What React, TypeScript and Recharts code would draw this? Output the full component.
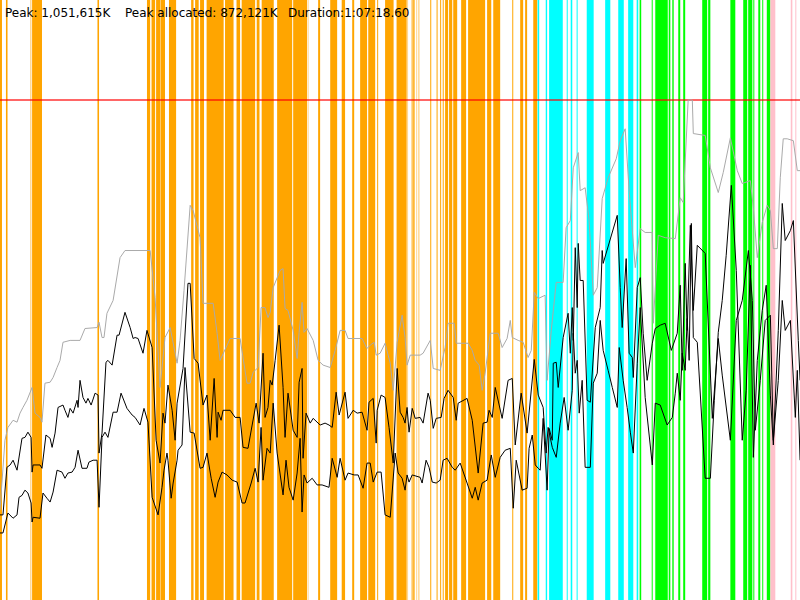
import React from "react";
import { ComposedChart, Line, XAxis, YAxis, ReferenceLine, ReferenceArea } from "recharts";

// Time in seconds, memory in MB
const DURATION_S = 4038.6;
const PEAK_MB = 1051.615;
const Y_MAX = 1261.9;

const summaryLabels = [
  { text: "Peak: 1,051,615K", left: 5 },
  { text: "Peak allocated: 872,121K", left: 125 },
  { text: "Duration:1:07:18.60", left: 288 },
];

// committed heap (gray)
const committedHeap: [number, number][] = [
  [0,189],[25,336],[40,363],[66,378],[86,374],[101,393],[116,405],[136,420],[162,447],[177,393],[202,384],[212,374],[227,456],[253,458],[268,468],[288,489],[303,504],[318,542],[354,546],[404,546],[429,571],[490,573],[500,584],[515,552],[525,552],[540,603],[571,630],[606,720],[631,735],[758,735],[783,636],[808,447],[833,552],[859,573],[894,498],[909,546],[929,651],[960,830],[975,819],[1010,762],[1025,624],[1076,624],[1096,561],[1111,504],[1162,550],[1212,550],[1247,456],[1263,456],[1278,479],[1303,489],[1318,615],[1338,615],[1353,594],[1364,605],[1379,657],[1414,693],[1429,697],[1439,613],[1454,609],[1480,567],[1500,508],[1510,563],[1525,626],[1535,563],[1550,571],[1581,546],[1606,504],[1631,494],[1667,489],[1692,525],[1717,567],[1742,567],[1757,550],[1828,550],[1853,529],[1869,536],[1889,542],[1899,515],[1919,519],[1944,540],[1970,498],[1985,441],[2005,542],[2030,599],[2045,552],[2055,494],[2071,515],[2121,515],[2136,519],[2172,546],[2187,487],[2222,483],[2247,531],[2262,582],[2293,582],[2303,540],[2363,540],[2384,525],[2399,504],[2419,494],[2434,441],[2449,477],[2475,561],[2515,561],[2535,531],[2560,550],[2576,588],[2586,552],[2616,546],[2641,542],[2666,510],[2682,525],[2697,647],[2717,634],[2752,641],[2762,462],[2783,567],[2808,668],[2843,668],[2858,783],[2879,798],[2894,909],[2919,941],[2929,861],[2954,867],[2974,798],[2995,641],[3015,657],[3040,844],[3070,888],[3111,928],[3131,966],[3156,991],[3176,861],[3207,699],[3232,781],[3257,773],[3293,773],[3298,582],[3323,767],[3358,762],[3409,760],[3434,846],[3449,836],[3474,1051.6],[3495,1051.6],[3500,981],[3560,977],[3586,909],[3626,857],[3651,899],[3687,972],[3722,903],[3747,876],[3788,882],[3803,825],[3823,720],[3848,794],[3873,830],[3889,819],[3904,739],[3924,739],[3939,888],[3954,970],[3974,970],[4005,966],[4025,903],[4039,903],
];

// allocated (upper black)
const allocatedHeap: [number, number][] = [
  [0,179],[15,179],[35,279],[51,284],[66,294],[86,273],[111,340],[126,342],[141,353],[157,342],[162,269],[167,284],[202,284],[212,277],[232,347],[253,340],[263,321],[278,351],[293,405],[318,410],[328,399],[343,384],[354,403],[369,393],[389,420],[394,405],[404,462],[419,426],[434,414],[444,424],[460,410],[480,435],[495,431],[500,309],[515,351],[535,500],[545,504],[566,494],[591,557],[601,557],[631,605],[657,573],[672,550],[682,552],[697,550],[722,519],[742,567],[768,531],[788,336],[808,288],[823,393],[833,372],[848,452],[869,399],[884,336],[894,414],[924,487],[949,666],[960,666],[980,508],[1000,498],[1025,410],[1045,431],[1061,336],[1081,466],[1096,342],[1101,395],[1116,378],[1126,399],[1162,399],[1187,384],[1212,384],[1227,321],[1252,319],[1273,368],[1293,414],[1308,372],[1328,519],[1338,384],[1353,405],[1364,462],[1374,452],[1389,504],[1409,578],[1429,447],[1439,342],[1454,435],[1480,357],[1500,342],[1510,458],[1525,487],[1530,298],[1545,393],[1566,372],[1581,382],[1616,368],[1641,372],[1661,368],[1677,363],[1697,437],[1712,389],[1742,437],[1757,382],[1783,399],[1803,393],[1828,395],[1853,357],[1863,416],[1884,424],[1899,330],[1904,399],[1924,431],[1944,426],[1964,363],[1985,288],[2005,487],[2020,395],[2035,384],[2045,372],[2055,405],[2065,353],[2081,403],[2096,382],[2121,384],[2136,372],[2161,435],[2172,420],[2187,361],[2202,382],[2227,384],[2242,424],[2262,441],[2288,426],[2303,378],[2313,414],[2358,424],[2384,378],[2414,267],[2439,372],[2459,374],[2469,399],[2485,384],[2500,447],[2535,382],[2565,462],[2586,466],[2601,326],[2631,435],[2661,351],[2697,506],[2717,431],[2742,405],[2757,309],[2767,363],[2788,321],[2808,300],[2828,372],[2848,426],[2868,357],[2889,441],[2894,561],[2904,477],[2914,504],[2924,393],[2939,462],[2954,279],[2980,279],[2995,456],[3015,477],[3030,588],[3045,525],[3070,483],[3091,447],[3116,405],[3126,531],[3146,462],[3166,405],[3182,353],[3197,309],[3217,498],[3232,615],[3257,426],[3293,284],[3308,414],[3333,410],[3368,368],[3394,384],[3409,435],[3419,477],[3434,420],[3444,519],[3459,483],[3469,592],[3479,504],[3490,792],[3500,552],[3520,542],[3560,256],[3586,256],[3606,420],[3626,563],[3646,630],[3666,725],[3692,872.1],[3717,693],[3747,336],[3767,441],[3788,704],[3803,300],[3823,504],[3848,609],[3868,662],[3889,431],[3904,326],[3929,567],[3949,834],[3964,756],[3990,777],[4005,798],[4030,546],[4039,462],
];

// live heap (lower black)
const liveHeap: [number, number][] = [
  [0,141],[15,141],[40,183],[66,172],[86,179],[96,216],[111,220],[126,231],[141,225],[157,204],[162,164],[167,174],[202,172],[217,225],[237,214],[253,206],[268,227],[288,273],[313,269],[328,256],[343,267],[364,269],[379,279],[394,315],[414,277],[439,277],[449,290],[470,294],[490,294],[500,195],[515,342],[530,353],[545,342],[571,395],[591,395],[611,435],[641,403],[667,389],[682,384],[707,368],[727,403],[747,374],[768,216],[798,179],[818,237],[828,273],[843,309],[848,294],[864,214],[874,246],[894,294],[899,315],[919,326],[934,489],[960,353],[980,351],[1010,277],[1025,279],[1045,309],[1066,256],[1086,216],[1101,248],[1121,269],[1146,263],[1172,252],[1197,248],[1222,204],[1237,204],[1268,246],[1288,277],[1303,248],[1318,363],[1328,252],[1348,319],[1364,309],[1379,414],[1399,309],[1429,221],[1444,294],[1459,237],[1480,210],[1500,267],[1515,340],[1525,185],[1535,263],[1550,246],[1576,256],[1601,242],[1626,242],[1661,237],[1677,298],[1702,258],[1717,298],[1742,252],[1757,267],[1788,263],[1808,263],[1833,235],[1853,288],[1869,288],[1884,248],[1904,269],[1924,269],[1944,179],[1970,174],[1995,309],[2010,267],[2030,256],[2045,231],[2055,263],[2065,248],[2081,263],[2121,258],[2131,246],[2151,294],[2166,279],[2182,248],[2202,246],[2222,252],[2237,294],[2257,298],[2283,279],[2298,273],[2323,288],[2358,246],[2384,214],[2399,237],[2414,210],[2434,246],[2459,252],[2480,305],[2500,258],[2525,300],[2550,315],[2576,319],[2591,193],[2606,294],[2636,231],[2661,235],[2671,319],[2687,347],[2702,284],[2717,277],[2727,273],[2742,382],[2762,231],[2772,361],[2788,336],[2793,498],[2808,500],[2818,447],[2843,552],[2868,603],[2879,519],[2889,615],[2894,546],[2904,741],[2914,615],[2919,750],[2929,672],[2944,672],[2964,420],[2980,416],[3005,573],[3030,615],[3040,735],[3045,708],[3116,809],[3131,657],[3141,573],[3161,718],[3176,519],[3192,510],[3197,468],[3217,657],[3232,678],[3247,561],[3267,462],[3293,540],[3308,571],[3333,578],[3358,582],[3389,525],[3419,561],[3434,662],[3444,483],[3459,708],[3469,567],[3485,788],[3500,609],[3520,746],[3560,729],[3596,382],[3626,550],[3646,473],[3687,336],[3717,588],[3747,630],[3778,735],[3798,630],[3813,357],[3838,462],[3863,588],[3889,599],[3904,336],[3929,462],[3949,630],[3964,567],[3990,588],[4015,384],[4025,483],[4039,294],
];

// GC activity windows [start s, end s]
const youngPauses: [number, number][] = [
  [0,10],[30,38],[162,212],[492,500],[742,758],[765,783],[788,808],[810,833],[853,889],[965,977],[985,1003],[1010,1030],[1043,1129],[1136,1179],[1194,1212],[1220,1288],[1296,1310],[1321,1382],[1399,1475],[1480,1550],[1606,1616],[1667,1702],[1725,1742],[1778,1788],[1818,1853],[1859,1894],[1904,1909],[1944,1987],[2002,2053],[2078,2083],[2086,2093],[2172,2177],[2204,2209],[2222,2227],[2235,2240],[2247,2262],[2267,2283],[2288,2308],[2328,2353],[2363,2449],[2459,2480],[2490,2525],[2586,2591],[2626,2641],[2651,2661],[2692,2712],
];
const youngPausesShort: [number, number][] = [
  [152,159],[1553,1558],[2055,2060],[2101,2106],[2111,2118],
];
const concurrentMarks: [number, number][] = [
  [2714,2722],[2755,2762],[2772,2841],[2861,2866],[2881,2889],[2911,2916],[2962,2997],[3055,3081],[3121,3149],[3171,3197],[3214,3222],
];
const mixedPauses: [number, number][] = [
  [3229,3237],[3290,3295],[3308,3371],[3376,3384],[3394,3401],[3424,3434],[3449,3459],[3545,3570],[3575,3586],[3687,3712],[3752,3772],[3777,3798],[3803,3808],[3828,3838],[3848,3853],[3871,3889],
];
const fullPauses: [number, number][] = [
  [3889,3914],[3992,4000],[4015,4020],[4030,4039],
];

const toPoints = (rows: [number, number][]) => rows.map(([t, v]) => ({ t, v }));

const eventBands = (spans: [number, number][], color: string, opacity: number, prefix: string) =>
  spans.map(([a, b], i) => (
    <ReferenceArea
      key={`${prefix}-${i}`}
      x1={a}
      x2={b}
      fill={color}
      fillOpacity={opacity}
      stroke="none"
    />
  ));

export default function App() {
  return (
    <div style={{ position: "absolute", left: 0, top: 0, width: 800, height: 600, background: "#fff", overflow: "hidden" }}>
      <ComposedChart width={800} height={600} margin={{ top: 0, right: 0, bottom: 0, left: 0 }}>
        <XAxis type="number" dataKey="t" domain={[0, DURATION_S]} hide allowDataOverflow />
        <YAxis type="number" domain={[0, Y_MAX]} hide allowDataOverflow />
        {eventBands(youngPauses, "#ffa500", 1, "yp")}
        {eventBands(youngPausesShort, "#ffa500", 0.45, "ys")}
        {eventBands(concurrentMarks, "#00ffff", 1, "cm")}
        {eventBands(mixedPauses, "#00ff00", 1, "mx")}
        {eventBands(fullPauses, "#ffc0cb", 1, "fp")}
        <ReferenceLine y={PEAK_MB} stroke="#ff0000" strokeOpacity={0.6} strokeWidth={2} />
        <Line data={toPoints(committedHeap)} dataKey="v" type="linear" stroke="#aaaaaa" strokeWidth={1} dot={false} activeDot={false} isAnimationActive={false} />
        <Line data={toPoints(liveHeap)} dataKey="v" type="linear" stroke="#000000" strokeWidth={1} dot={false} activeDot={false} isAnimationActive={false} />
        <Line data={toPoints(allocatedHeap)} dataKey="v" type="linear" stroke="#000000" strokeWidth={1} dot={false} activeDot={false} isAnimationActive={false} />
      </ComposedChart>
      {summaryLabels.map((l) => (
        <span
          key={l.left}
          style={{ position: "absolute", left: l.left, top: 6, fontFamily: "'DejaVu Sans', sans-serif", fontSize: 12, lineHeight: "14px", color: "#000", whiteSpace: "pre" }}
        >
          {l.text}
        </span>
      ))}
    </div>
  );
}
